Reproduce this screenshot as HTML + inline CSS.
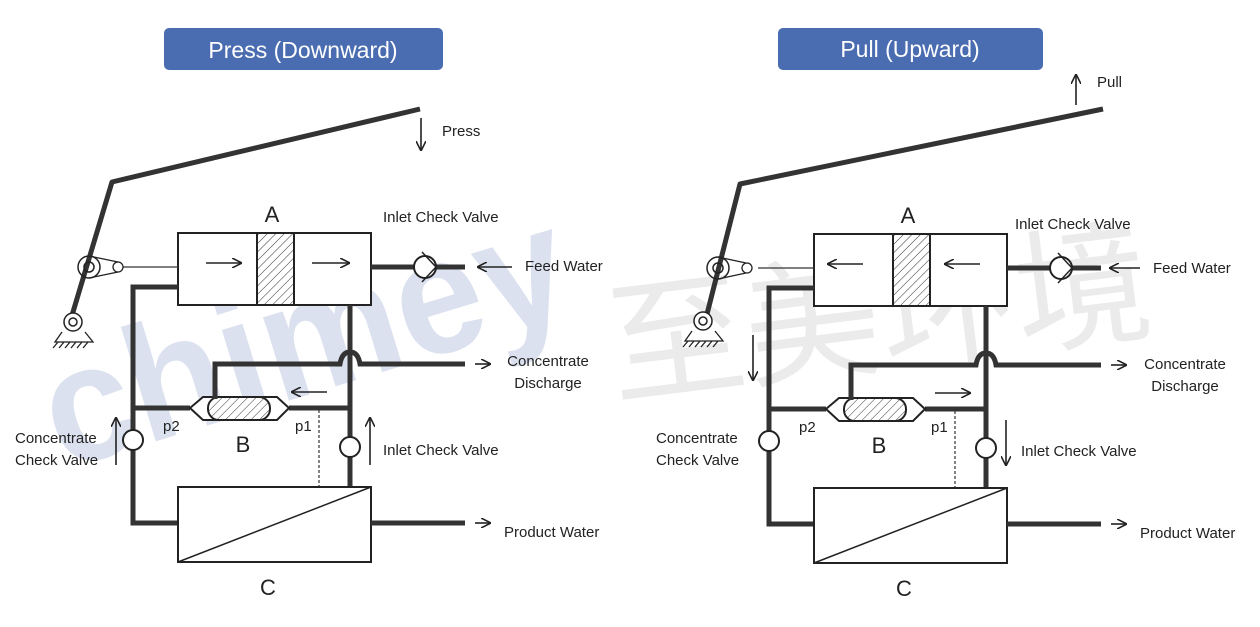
<!DOCTYPE html>
<html><head><meta charset="utf-8"><style>
html,body{margin:0;padding:0;background:#fff;}
svg{display:block;}
text{font-family:"Liberation Sans",sans-serif;fill:#222;}
</style></head><body>
<svg width="1260" height="627" viewBox="0 0 1260 627" xmlns="http://www.w3.org/2000/svg">
<defs>
<pattern id="h" width="6" height="6" patternUnits="userSpaceOnUse" patternTransform="rotate(45)">
<rect width="6" height="6" fill="#fff"/><line x1="0" y1="0" x2="0" y2="6" stroke="#333" stroke-width="1"/>
</pattern>
<marker id="ar" viewBox="0 0 10 10" refX="9" refY="5" markerWidth="10" markerHeight="10" markerUnits="userSpaceOnUse" orient="auto">
<path d="M0,0 L10,5 L0,10" fill="none" stroke="#222" stroke-width="1.6"/>
</marker>
<g id="diag">
<rect x="178" y="233" width="193" height="72" fill="#fff" stroke="#222" stroke-width="2"/>
<rect x="257" y="233" width="37" height="72" fill="url(#h)" stroke="#222" stroke-width="2"/>
<line x1="122" y1="267" x2="178" y2="267" stroke="#333" stroke-width="1.3"/>
<line x1="371" y1="267" x2="465" y2="267" stroke="#333" stroke-width="5"/>
<circle cx="425" cy="267" r="11" fill="#fff" stroke="#222" stroke-width="2"/>
<path d="M422,252 L436,267 L422,282" fill="none" stroke="#222" stroke-width="1.5"/>
<path d="M178,287 H133 V523 H178" fill="none" stroke="#333" stroke-width="5"/>
<path d="M350,305 V356 M350,372 V487" fill="none" stroke="#333" stroke-width="5"/>
<path d="M215,397 V364 H340 Q342,352 350,352 Q358,352 360,364 H465" fill="none" stroke="#333" stroke-width="5"/>
<line x1="350" y1="352" x2="350" y2="372" stroke="#333" stroke-width="5"/>
<line x1="133" y1="408" x2="190" y2="408" stroke="#333" stroke-width="5"/>
<line x1="289" y1="408" x2="350" y2="408" stroke="#333" stroke-width="5"/>
<polygon points="190,408 203,397 277,397 289,408 277,420 203,420" fill="#fff" stroke="#222" stroke-width="2"/>
<rect x="208" y="397" width="62" height="23" rx="11" fill="url(#h)" stroke="#222" stroke-width="2"/>
<line x1="215" y1="364" x2="215" y2="399" stroke="#333" stroke-width="5"/>
<line x1="319" y1="410" x2="319" y2="487" stroke="#333" stroke-width="1.2" stroke-dasharray="3,2"/>
<circle cx="133" cy="440" r="10" fill="#fff" stroke="#222" stroke-width="2"/>
<circle cx="350" cy="447" r="10" fill="#fff" stroke="#222" stroke-width="2"/>
<rect x="178" y="487" width="193" height="75" fill="#fff" stroke="#222" stroke-width="2"/>
<line x1="178" y1="562" x2="371" y2="487" stroke="#222" stroke-width="1.5"/>
<line x1="371" y1="523" x2="465" y2="523" stroke="#333" stroke-width="5"/>
<line x1="475" y1="523" x2="490" y2="523" stroke="#222" stroke-width="1.6" marker-end="url(#ar)"/>
<line x1="475" y1="364" x2="490" y2="364" stroke="#222" stroke-width="1.6" marker-end="url(#ar)"/>
<text x="272" y="222" font-size="22" text-anchor="middle">A</text>
<text x="243" y="452" font-size="22" text-anchor="middle">B</text>
<text x="268" y="595" font-size="22" text-anchor="middle">C</text>
<text x="163" y="431" font-size="15">p2</text>
<text x="295" y="431" font-size="15">p1</text>
<text x="504" y="537" font-size="15">Product Water</text>
</g>
</defs>

<!-- watermarks -->
<text x="62" y="470" font-size="165" font-weight="bold" textLength="540" lengthAdjust="spacingAndGlyphs" transform="rotate(-17 62 470)" style="fill:#dbe1ef">chimey</text>
<text x="615" y="395" font-size="135" textLength="545" lengthAdjust="spacingAndGlyphs" transform="rotate(-7 615 395)" style="fill:#ebebeb;font-family:'Noto Sans CJK SC',sans-serif">至美环境</text>

<rect x="164" y="28" width="279" height="42" rx="5" fill="#4a6cb0"/>
<text x="303" y="58" font-size="23" text-anchor="middle" style="fill:#fff">Press (Downward)</text>
<rect x="778" y="28" width="265" height="42" rx="5" fill="#4a6cb0"/>
<text x="910" y="57" font-size="23" text-anchor="middle" style="fill:#fff">Pull (Upward)</text>

<!-- LEFT -->
<use href="#diag"/>
<path d="M420,109 L112,182 L70,322" fill="none" stroke="#333" stroke-width="5" stroke-linejoin="round"/>
<circle cx="89" cy="267" r="11" fill="none" stroke="#222" stroke-width="1.5"/>
<circle cx="89" cy="267" r="5" fill="none" stroke="#222" stroke-width="1.5"/>
<path d="M89,256 L118,262 M89,278 L118,272" stroke="#222" stroke-width="1.3"/>
<circle cx="118" cy="267" r="5" fill="#fff" stroke="#222" stroke-width="1.3"/>
<circle cx="73" cy="322" r="9" fill="#fff" stroke="#222" stroke-width="1.5"/>
<circle cx="73" cy="322" r="4" fill="none" stroke="#222" stroke-width="1.5"/>
<path d="M62,332 L55,342 H93 L85,332 M58,342 l-5,6 M64,342 l-5,6 M70,342 l-5,6 M76,342 l-5,6 M82,342 l-5,6 M88,342 l-5,6" fill="none" stroke="#222" stroke-width="1.3"/>
<line x1="206" y1="263" x2="241" y2="263" stroke="#222" stroke-width="1.6" marker-end="url(#ar)"/>
<line x1="312" y1="263" x2="349" y2="263" stroke="#222" stroke-width="1.6" marker-end="url(#ar)"/>
<line x1="512" y1="267" x2="478" y2="267" stroke="#222" stroke-width="1.6" marker-end="url(#ar)"/>
<line x1="327" y1="392" x2="292" y2="392" stroke="#222" stroke-width="1.6" marker-end="url(#ar)"/>
<line x1="421" y1="118" x2="421" y2="150" stroke="#222" stroke-width="1.6" marker-end="url(#ar)"/>
<line x1="116" y1="465" x2="116" y2="418" stroke="#222" stroke-width="1.6" marker-end="url(#ar)"/>
<line x1="370" y1="465" x2="370" y2="418" stroke="#222" stroke-width="1.6" marker-end="url(#ar)"/>
<text x="442" y="136" font-size="15">Press</text>
<text x="383" y="222" font-size="15">Inlet Check Valve</text>
<text x="525" y="271" font-size="15">Feed Water</text>
<text x="548" y="366" font-size="15" text-anchor="middle">Concentrate</text>
<text x="548" y="388" font-size="15" text-anchor="middle">Discharge</text>
<text x="383" y="455" font-size="15">Inlet Check Valve</text>
<text x="15" y="443" font-size="15">Concentrate</text>
<text x="15" y="465" font-size="15">Check Valve</text>

<!-- RIGHT -->
<g transform="translate(636,1)"><use href="#diag"/></g>
<path d="M1103,109 L740,184 L705,322" fill="none" stroke="#333" stroke-width="5" stroke-linejoin="round"/>
<circle cx="718" cy="268" r="11" fill="none" stroke="#222" stroke-width="1.5"/>
<circle cx="718" cy="268" r="5" fill="none" stroke="#222" stroke-width="1.5"/>
<path d="M718,257 L746,263 M718,279 L746,273" stroke="#222" stroke-width="1.3"/>
<circle cx="747" cy="268" r="5" fill="#fff" stroke="#222" stroke-width="1.3"/>
<circle cx="703" cy="321" r="9" fill="#fff" stroke="#222" stroke-width="1.5"/>
<circle cx="703" cy="321" r="4" fill="none" stroke="#222" stroke-width="1.5"/>
<path d="M692,331 L685,341 H723 L715,331 M688,341 l-5,6 M694,341 l-5,6 M700,341 l-5,6 M706,341 l-5,6 M712,341 l-5,6 M718,341 l-5,6" fill="none" stroke="#222" stroke-width="1.3"/>
<line x1="863" y1="264" x2="828" y2="264" stroke="#222" stroke-width="1.6" marker-end="url(#ar)"/>
<line x1="980" y1="264" x2="945" y2="264" stroke="#222" stroke-width="1.6" marker-end="url(#ar)"/>
<line x1="1140" y1="268" x2="1110" y2="268" stroke="#222" stroke-width="1.6" marker-end="url(#ar)"/>
<line x1="935" y1="393" x2="970" y2="393" stroke="#222" stroke-width="1.6" marker-end="url(#ar)"/>
<line x1="1076" y1="105" x2="1076" y2="75" stroke="#222" stroke-width="1.6" marker-end="url(#ar)"/>
<line x1="753" y1="335" x2="753" y2="380" stroke="#222" stroke-width="1.6" marker-end="url(#ar)"/>
<line x1="1006" y1="420" x2="1006" y2="465" stroke="#222" stroke-width="1.6" marker-end="url(#ar)"/>
<text x="1097" y="87" font-size="15">Pull</text>
<text x="1015" y="229" font-size="15">Inlet Check Valve</text>
<text x="1153" y="273" font-size="15">Feed Water</text>
<text x="1185" y="369" font-size="15" text-anchor="middle">Concentrate</text>
<text x="1185" y="391" font-size="15" text-anchor="middle">Discharge</text>
<text x="1021" y="456" font-size="15">Inlet Check Valve</text>
<text x="656" y="443" font-size="15">Concentrate</text>
<text x="656" y="465" font-size="15">Check Valve</text>
</svg>
</body></html>
